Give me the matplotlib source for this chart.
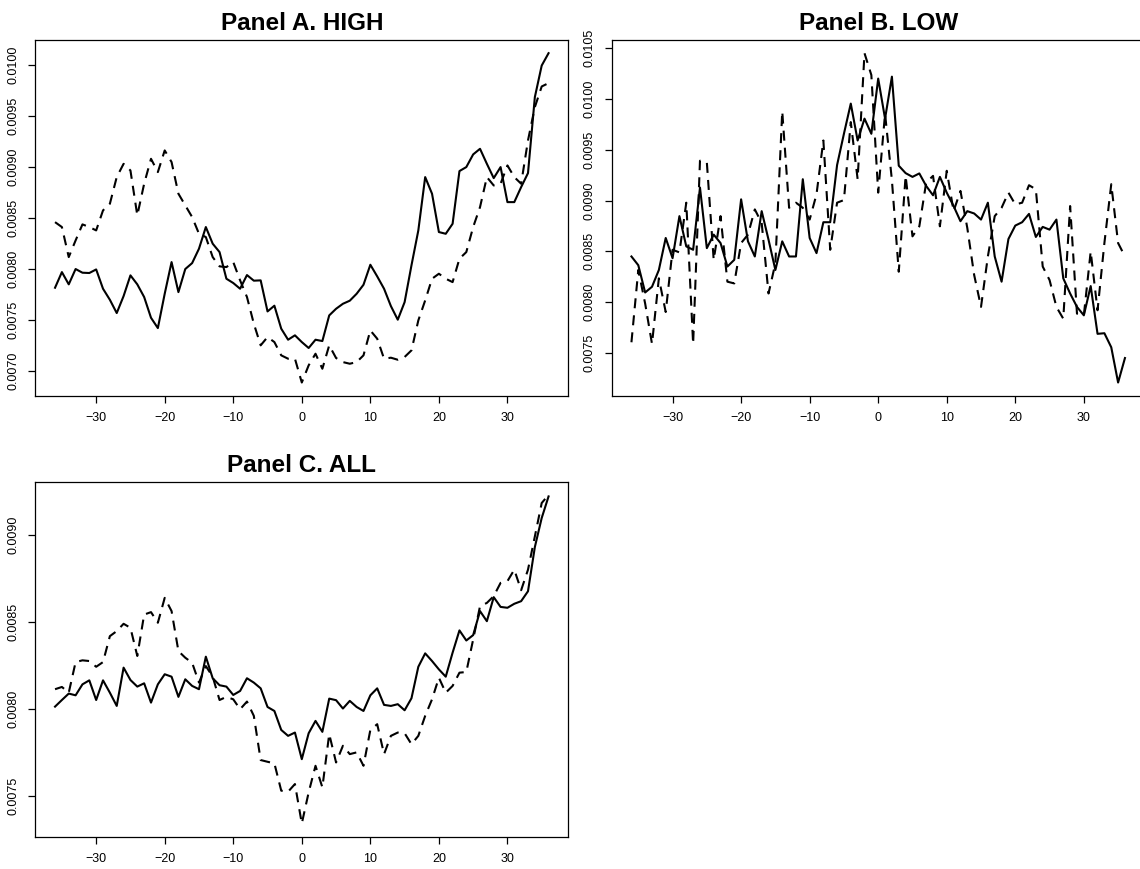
import matplotlib
matplotlib.use("Agg")
import matplotlib.pyplot as plt
import numpy as np

plt.rcParams["font.family"] = ["Liberation Sans", "DejaVu Sans"]

event_days = np.arange(-36, 37)

high_solid = [
    0.007818, 0.007971, 0.007851, 0.008001, 0.007965, 0.007962, 0.007997, 0.007808, 0.007700, 0.007570,
    0.007736, 0.007939, 0.007851, 0.007727, 0.007524, 0.007423, 0.007759, 0.008069, 0.007775, 0.008001,
    0.008059, 0.008200, 0.008412, 0.008249, 0.008167, 0.007906, 0.007864, 0.007808, 0.007942, 0.007887,
    0.007890, 0.007586, 0.007642, 0.007417, 0.007309, 0.007352, 0.007286, 0.007228, 0.007309, 0.007296,
    0.007547, 0.007612, 0.007661, 0.007691, 0.007759, 0.007847, 0.008043, 0.007929, 0.007808, 0.007638,
    0.007505, 0.007677, 0.008037, 0.008379, 0.008901, 0.008738, 0.008363, 0.008346, 0.008444, 0.008960,
    0.008999, 0.009123, 0.009178, 0.009031, 0.008891, 0.008999, 0.008656, 0.008656, 0.008803, 0.008940,
    0.009684, 0.009993, 0.010114,
]
high_dashed = [
    0.008460, 0.008412, 0.008118, 0.008281, 0.008438, 0.008412, 0.008379, 0.008575, 0.008640, 0.008901,
    0.009031, 0.008966, 0.008526, 0.008836, 0.009080, 0.008950, 0.009162, 0.009048, 0.008738, 0.008624,
    0.008510, 0.008346, 0.008314, 0.008118, 0.008027, 0.008020, 0.008069, 0.007890, 0.007727, 0.007466,
    0.007254, 0.007335, 0.007286, 0.007156, 0.007123, 0.007123, 0.006890, 0.007058, 0.007172, 0.007025,
    0.007254, 0.007130, 0.007090, 0.007074, 0.007090, 0.007156, 0.007400, 0.007319, 0.007123, 0.007133,
    0.007113, 0.007140, 0.007205, 0.007498, 0.007694, 0.007906, 0.007955, 0.007906, 0.007873, 0.008102,
    0.008167, 0.008412, 0.008607, 0.008901, 0.008819, 0.008836, 0.009015, 0.008901, 0.008836, 0.009260,
    0.009586, 0.009788, 0.009821,
]

low_solid = [
    0.008450, 0.008364, 0.008096, 0.008152, 0.008317, 0.008632, 0.008433, 0.008847, 0.008549, 0.008516,
    0.009128, 0.008532, 0.008665, 0.008582, 0.008351, 0.008417, 0.009012, 0.008599, 0.008450, 0.008896,
    0.008615, 0.008317, 0.008599, 0.008450, 0.008450, 0.009210, 0.008632, 0.008483, 0.008787, 0.008787,
    0.009349, 0.009657, 0.009954, 0.009591, 0.009806, 0.009657, 0.010200, 0.009806, 0.010219, 0.009343,
    0.009270, 0.009233, 0.009267, 0.009144, 0.009052, 0.009233, 0.009078, 0.008946, 0.008797, 0.008896,
    0.008873, 0.008813, 0.008979, 0.008450, 0.008202, 0.008622, 0.008754, 0.008787, 0.008869, 0.008642,
    0.008741, 0.008714, 0.008813, 0.008235, 0.008086, 0.007954, 0.007871, 0.008159, 0.007689, 0.007695,
    0.007557, 0.007210, 0.007451,
]
low_dashed = [
    0.007606, 0.008317, 0.007987, 0.007590, 0.008235, 0.007904, 0.008516, 0.008490, 0.008979, 0.007590,
    0.009392, 0.009376, 0.008417, 0.008847, 0.008202, 0.008185, 0.008582, 0.008665, 0.008913, 0.008780,
    0.008086, 0.008384, 0.009878, 0.008929, 0.008979, 0.008929, 0.008813, 0.009062, 0.009591, 0.008516,
    0.008979, 0.009005, 0.009772, 0.009210, 0.010450, 0.010235, 0.009078, 0.009855, 0.009200, 0.008300,
    0.009243, 0.008648, 0.008747, 0.009177, 0.009243, 0.008747, 0.009293, 0.008896, 0.009095, 0.008730,
    0.008268, 0.007954, 0.008450, 0.008847, 0.008929, 0.009078, 0.008962, 0.008979, 0.009151, 0.009111,
    0.008351, 0.008218, 0.007954, 0.007838, 0.008946, 0.007888, 0.007871, 0.008499, 0.007921, 0.008582,
    0.009161, 0.008582, 0.008450,
]

all_solid = [
    0.008012, 0.008050, 0.008087, 0.008077, 0.008140, 0.008163, 0.008050, 0.008163, 0.008092, 0.008016,
    0.008236, 0.008165, 0.008127, 0.008146, 0.008035, 0.008140, 0.008198, 0.008184, 0.008068, 0.008169,
    0.008131, 0.008112, 0.008299, 0.008175, 0.008135, 0.008127, 0.008079, 0.008102, 0.008175, 0.008150,
    0.008117, 0.008010, 0.007987, 0.007878, 0.007844, 0.007863, 0.007710, 0.007859, 0.007930, 0.007867,
    0.008058, 0.008049, 0.008001, 0.008045, 0.008010, 0.007987, 0.008077, 0.008117, 0.008022, 0.008016,
    0.008026, 0.007991, 0.008060, 0.008241, 0.008318, 0.008274, 0.008226, 0.008184, 0.008322, 0.008450,
    0.008392, 0.008423, 0.008561, 0.008503, 0.008641, 0.008585, 0.008580, 0.008603, 0.008618, 0.008675,
    0.008929, 0.009096, 0.009220,
]
all_dashed = [
    0.008112, 0.008125, 0.008092, 0.008268, 0.008278, 0.008274, 0.008241, 0.008268, 0.008417, 0.008446,
    0.008488, 0.008465, 0.008303, 0.008541, 0.008555, 0.008494, 0.008637, 0.008561, 0.008331, 0.008293,
    0.008264, 0.008150, 0.008245, 0.008184, 0.008050, 0.008068, 0.008054, 0.007997, 0.008041, 0.007959,
    0.007705, 0.007695, 0.007686, 0.007529, 0.007523, 0.007567, 0.007340, 0.007519, 0.007672, 0.007548,
    0.007854, 0.007691, 0.007787, 0.007739, 0.007749, 0.007672, 0.007878, 0.007911, 0.007739, 0.007844,
    0.007863, 0.007859, 0.007796, 0.007844, 0.007959, 0.008054, 0.008178, 0.008092, 0.008131, 0.008207,
    0.008211, 0.008398, 0.008589, 0.008608, 0.008647, 0.008723, 0.008733, 0.008799, 0.008681, 0.008799,
    0.008990, 0.009182, 0.009229,
]

x_ticks = [-30, -20, -10, 0, 10, 20, 30]
high_yticks = [0.0070, 0.0075, 0.0080, 0.0085, 0.0090, 0.0095, 0.0100]
low_yticks = [0.0075, 0.0080, 0.0085, 0.0090, 0.0095, 0.0100, 0.0105]
all_yticks = [0.0075, 0.0080, 0.0085, 0.0090]

W, H = 1140, 869


def px_axes(fig, left, top, right, bottom):
    return fig.add_axes([left / W, 1 - bottom / H, (right - left) / W, (bottom - top) / H])


def draw_panel(ax, title, solid, dashed, yticks):
    ax.plot(event_days, solid, color="black", lw=1.5, solid_joinstyle="round")
    ax.plot(event_days, dashed, color="black", lw=1.5, linestyle=(0, (4.8, 3.4)))
    ax.margins(x=0.04, y=0.04)
    ax.set_xticks(x_ticks)
    ax.set_xticklabels(["\u221230", "\u221220", "\u221210", "0", "10", "20", "30"])
    ax.set_yticks(yticks)
    ax.set_yticklabels([f"{v:.4f}" for v in yticks], rotation=90, va="center")
    ax.tick_params(direction="out", length=5, width=0.9, labelsize=9, pad=6.5, colors="black")
    for sp in ax.spines.values():
        sp.set_linewidth(0.9)
    ax.set_title(title, fontsize=17.5, fontweight="bold", pad=7)


fig = plt.figure(figsize=(W / 100, H / 100), dpi=100)
ax_a = px_axes(fig, 35.3, 40, 568.3, 395.7)
ax_b = px_axes(fig, 611.7, 40, 1144.7, 395.7)
ax_c = px_axes(fig, 35.3, 481.7, 568.3, 836.7)

draw_panel(ax_a, "Panel A. HIGH", high_solid, high_dashed, high_yticks)
draw_panel(ax_b, "Panel B. LOW", low_solid, low_dashed, low_yticks)
draw_panel(ax_c, "Panel C. ALL", all_solid, all_dashed, all_yticks)

fig.savefig("out.png", dpi=100)
